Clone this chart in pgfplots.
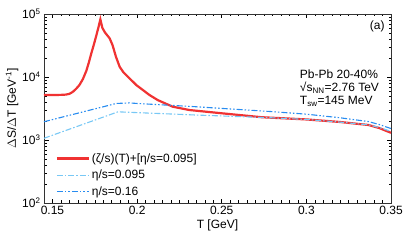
\documentclass[border=0pt]{standalone}
\usepackage{pgfplots}
\pgfplotsset{compat=1.18}
\usepackage{fontspec}
\setmainfont{Liberation Sans}
\definecolor{cred}{RGB}{240,50,50}
\definecolor{cdblue}{RGB}{40,140,240}
\definecolor{clblue}{RGB}{120,200,245}
\begin{document}
\begin{tikzpicture}
\begin{axis}[
  scale only axis,
  width=347pt, height=189pt,
  ymode=log,
  xmin=0.145, xmax=0.35,
  ymin=100, ymax=100000,
  xtick={0.15,0.2,0.25,0.3,0.35},
  xticklabels={0.15,0.2,0.25,0.3,0.35},
  minor x tick num=9,
  ytick={100,1000,10000,100000},
  yticklabels={10\textsuperscript{2},10\textsuperscript{3},10\textsuperscript{4},10\textsuperscript{5}},
  tick align=inside,
  tick pos=both,
  major tick length=4.5pt,
  minor tick length=2.5pt,
  tick style={black, line width=0.5pt},
  axis line style={line width=0.6pt, black!80},
  font=\fontsize{12}{14}\selectfont,
  ticklabel style={font=\fontsize{12}{14}\selectfont},
  xlabel={T [GeV]},
  ylabel={$\Delta$S/$\Delta$T [GeV\textsuperscript{-1}]},
  xlabel style={yshift=2pt},
  ylabel style={yshift=-3pt},
  legend style={draw=none, fill=none, at={(0.025,0.285)}, anchor=north west,
    font=\fontsize{12}{14}\selectfont, row sep=2.5pt},
  legend cell align=left,
  legend image code/.code={\draw[#1] (0cm,0cm) -- (1.12cm,0cm);},
  clip=true,
]
\addplot[cred, line width=2.2pt] coordinates {
(0.145,5180) (0.150,5190) (0.155,5200) (0.158,5260) (0.160,5400) (0.162,5800)
(0.164,6500) (0.166,7500) (0.168,9300) (0.170,12500) (0.1715,17000) (0.173,24000)
(0.1745,33000) (0.176,46500) (0.1772,62000) (0.1783,82000) (0.1795,60000)
(0.181,51000) (0.1838,41000) (0.1855,32000) (0.1875,21000) (0.1897,14500)
(0.192,11800) (0.1936,10700) (0.1995,7460) (0.2073,5180) (0.2122,4300)
(0.221,3380) (0.2309,2990) (0.2503,2650) (0.2735,2300) (0.30,2120) (0.32,1930)
(0.3367,1730) (0.343,1550) (0.35,1300)
};
\addlegendentry{(ζ/s)(T)+[η/s=0.095]}
\addplot[clblue, line width=1.1pt, dash pattern=on 6pt off 2pt on 1.5pt off 2pt] coordinates {
(0.145,1065) (0.1887,2800) (0.2,2720) (0.2333,2500) (0.2797,2250) (0.30,2120) (0.32,1920) (0.3367,1740) (0.343,1580) (0.35,1370)
};
\addlegendentry{η/s=0.095}
\addplot[cdblue, line width=1.1pt, dash pattern=on 6pt off 2pt on 1.5pt off 2pt on 1.5pt off 2pt] coordinates {
(0.145,1950) (0.1877,3800) (0.1955,3880) (0.2,3800) (0.2333,3390) (0.2797,2820) (0.30,2570) (0.32,2250) (0.3367,1960) (0.343,1760) (0.35,1520)
};
\addlegendentry{η/s=0.16}
\node[anchor=north east, inner sep=0pt] at (rel axis cs:0.982,0.965) {(a)};
\node[anchor=north west, align=left, inner sep=0pt, font=\fontsize{12}{13}\selectfont]
  at (rel axis cs:0.737,0.705) {Pb-Pb 20-40\%\\√s\textsubscript{NN}=2.76 TeV\\T\textsubscript{sw}=145 MeV};
\end{axis}
\path ([xshift=-44pt,yshift=-44pt]current axis.south west) rectangle ([xshift=20pt,yshift=14pt]current axis.north east);
\end{tikzpicture}
\end{document}
